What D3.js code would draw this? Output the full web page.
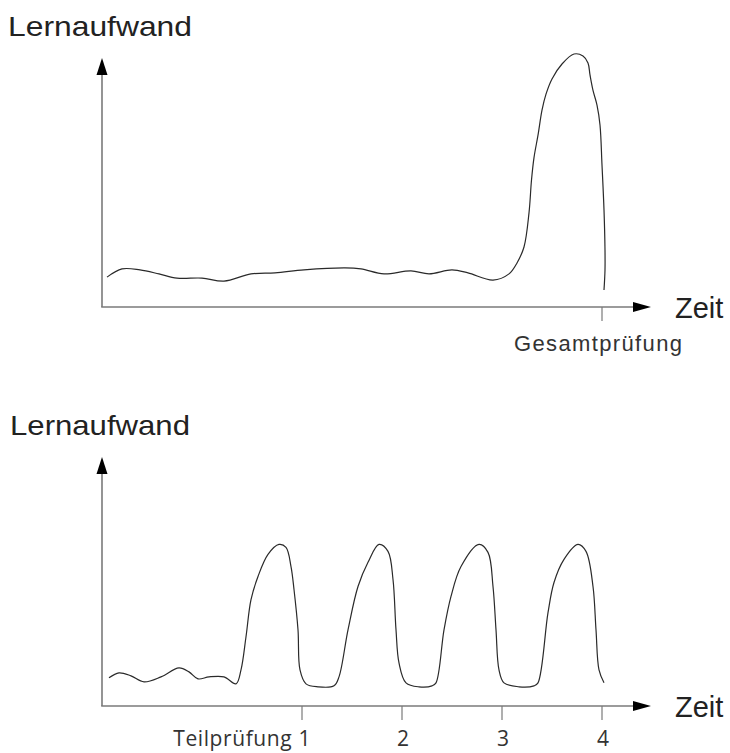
<!DOCTYPE html>
<html>
<head>
<meta charset="utf-8">
<script src="https://cdn.jsdelivr.net/npm/d3@7/dist/d3.min.js"></script>
<style>
  html, body { margin: 0; padding: 0; background: #fff; }
  svg { display: block; }
</style>
</head>
<body>
<svg id="chart" width="730" height="753"></svg>
<script>
// ---------- DATA ----------
const yLabel = "Lernaufwand";
const xLabel = "Zeit";
const timeDomain = [-1, 4.49];
const effortDomain = [0, 100];

// Upper chart: one final exam
const topTicks = [4];
const topTickLabels = ["Gesamtprüfung"];
const topTime = [-0.95, -0.80, -0.62, -0.43, -0.25, 0, 0.22, 0.49, 0.73, 1.02, 1.43, 1.59, 1.82, 2.09, 2.27, 2.50, 2.66, 2.91, 3.07, 3.15, 3.22, 3.27, 3.295, 3.32, 3.36, 3.40, 3.44, 3.50, 3.60, 3.72, 3.81, 3.86, 3.88, 3.91, 3.95, 3.98, 4.00, 4.02, 4.03, 4.03, 4.02];
const topEffort = [12, 15.3, 14.9, 13.3, 11.6, 11.6, 10.4, 13.3, 13.7, 14.9, 15.7, 15.3, 13.3, 14.5, 13.3, 14.9, 13.7, 10.8, 13.3, 17.7, 24.1, 37.8, 51, 60, 69, 79.1, 85.5, 91.6, 97.6, 101.6, 100.8, 98, 93.2, 87, 81.1, 73.1, 57, 39, 22.9, 14.9, 6.8];

// Lower chart: four partial exams
const bottomTicks = [1, 2, 3, 4];
const bottomTickLabels = ["Teilprüfung 1", "2", "3", "4"];
const bottomTime = [-0.93, -0.83, -0.71, -0.58, -0.41, -0.23, -0.13, -0.04, 0.07, 0.22, 0.34,
  0.39, 0.44, 0.49, 0.56, 0.66, 0.77, 0.84, 0.89, 0.92, 0.96, 0.98, 1.04, 1.16, 1.32,
  1.37, 1.46, 1.56, 1.66, 1.77, 1.86, 1.91, 1.94, 1.97, 2.04, 2.17, 2.30,
  2.34, 2.42, 2.49, 2.59, 2.77, 2.86, 2.91, 2.94, 2.97, 3.02, 3.17, 3.32,
  3.36, 3.46, 3.52, 3.62, 3.76, 3.84, 3.91, 3.94, 3.97, 4.02];
const bottomEffort = [11.3, 13.3, 12.1, 9.7, 11.7, 15.3, 13.7, 10.9, 11.7, 11.7, 8.9,
  14.5, 27.8, 42.7, 52, 60.9, 64.9, 63.7, 56, 46.8, 30.6, 14.5, 8.9, 7.7, 8.1,
  11.7, 30.6, 48, 57.7, 64.9, 62.1, 50.8, 30.6, 17.3, 9.3, 7.7, 8.1,
  9.3, 30.6, 44, 56, 64.9, 61.7, 48, 30.6, 14.5, 9.3, 7.7, 8.1,
  9.3, 37.5, 49.6, 58.9, 64.9, 62.1, 48, 30.6, 14.5, 9.3];

// ---------- DRAW ----------
const svg = d3.select("#chart");
const axisColor = "#7a7a7a";
const curveColor = "#2a2a2a";
const textColor = "#222";

function panel(cfg) {
  const x = d3.scaleLinear().domain(timeDomain).range([102, 651]);
  const y = d3.scaleLinear().domain(effortDomain).range([cfg.y0, cfg.y0 - 249]);
  const g = svg.append("g");
  const x0 = x(timeDomain[0]), xEnd = x(timeDomain[1]);
  const yBase = y(0), yTop = y(100);

  // y axis line + arrow
  g.append("line").attr("x1", x0).attr("x2", x0).attr("y1", yBase).attr("y2", yTop + 14)
    .attr("stroke", axisColor).attr("stroke-width", 1.6);
  g.append("path")
    .attr("d", `M${x0},${yTop} L${x0 - 5.5},${yTop + 17} L${x0 + 5.5},${yTop + 17} Z`)
    .attr("fill", "#000");
  // x axis line + arrow
  g.append("line").attr("x1", x0 - 0.8).attr("x2", xEnd - 14).attr("y1", yBase).attr("y2", yBase)
    .attr("stroke", axisColor).attr("stroke-width", 1.6);
  g.append("path")
    .attr("d", `M${xEnd},${yBase} L${xEnd - 18},${yBase - 5} L${xEnd - 18},${yBase + 5} Z`)
    .attr("fill", "#000");

  // ticks
  g.selectAll(".tick").data(cfg.ticks).enter().append("line")
    .attr("x1", d => x(d)).attr("x2", d => x(d))
    .attr("y1", yBase).attr("y2", yBase + 14)
    .attr("stroke", axisColor).attr("stroke-width", 1.2);

  // curve
  const line = d3.line().x((d, i) => x(cfg.time[i])).y((d, i) => y(cfg.effort[i]))
    .curve(d3.curveCatmullRom.alpha(0.5));
  g.append("path").datum(cfg.time).attr("d", line)
    .attr("fill", "none").attr("stroke", curveColor).attr("stroke-width", 1.2);

  // labels
  g.append("text").attr("x", cfg.yLabelX).attr("y", yTop - 22)
    .attr("font-family", "Liberation Sans, Arial, sans-serif").attr("font-size", 28)
    .attr("fill", textColor).attr("textLength", cfg.yLabelLen).attr("lengthAdjust", "spacingAndGlyphs")
    .text(yLabel);
  g.append("text").attr("x", 675).attr("y", yBase + 11)
    .attr("font-family", "Liberation Sans, Arial, sans-serif").attr("font-size", 29)
    .attr("fill", textColor).text(xLabel);

  return { g, x, y, yBase };
}

// upper
const p1 = panel({ y0: 307, ticks: topTicks, time: topTime, effort: topEffort, yLabelX: 8, yLabelLen: 184 });
p1.g.selectAll(".tl").data(topTicks).enter().append("text")
  .attr("x", d => p1.x(d) - 4).attr("y", p1.yBase + 44)
  .attr("text-anchor", "middle")
  .attr("font-family", "Liberation Sans, Arial, sans-serif").attr("font-size", 22)
  .attr("fill", "#333").attr("textLength", 168).attr("lengthAdjust", "spacing")
  .text((d, i) => topTickLabels[i]);

// lower
const p2 = panel({ y0: 706, ticks: bottomTicks, time: bottomTime, effort: bottomEffort, yLabelX: 10, yLabelLen: 180 });
p2.g.selectAll(".tl").data(bottomTicks).enter().append("text")
  .attr("x", (d, i) => i === 0 ? p2.x(d) + 9 : p2.x(d) + 1)
  .attr("y", 746)
  .attr("text-anchor", (d, i) => i === 0 ? "end" : "middle")
  .attr("font-family", "Open Sans, Noto Sans, sans-serif").attr("font-size", 21)
  .attr("letter-spacing", (d, i) => i === 0 ? 0.6 : 0)
  .attr("fill", "#333")
  .text((d, i) => bottomTickLabels[i]);
</script>
</body>
</html>
